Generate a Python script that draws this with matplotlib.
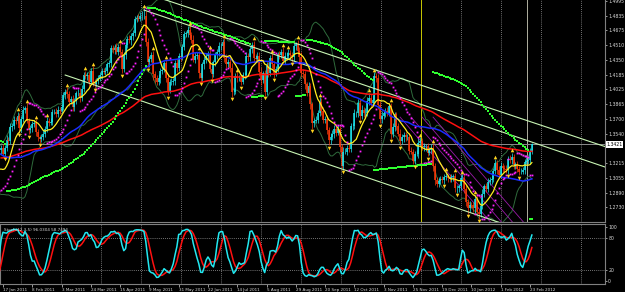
import numpy as np
import pandas as pd
import matplotlib
matplotlib.use('Agg')
import matplotlib.pyplot as plt
import matplotlib.transforms as mtransforms
from matplotlib import font_manager as fm

# ---------------- data (EURUSD daily) -------------
# closes before the first visible bar (only used to warm up the indicators)
pre_closes = [1.4170, 1.4200, 1.4030,
1.3920,1.3810,1.3820,1.3780,1.3690,
1.3600,1.3530,1.3550,1.3680,1.3670,
1.3620,1.3390,1.3370,1.3340,1.3240,
1.3120,1.3000,1.3140,1.3230,1.3410,
1.3290,1.3250,1.3250,1.3240,1.3220,
1.3370,1.3290,1.3210,1.3230,1.3190,
1.3120,1.3120,1.3080,1.3100,1.3080,
1.3160,1.3120,1.3130,1.3190,1.3380,
1.3360,1.3310,1.3140,1.3010,1.2910,
1.2950,1.2980,1.3090,1.3360]

closes = [1.3382,
1.3320,1.3380,1.3470,1.3460,1.3610,
1.3620,1.3690,1.3680,1.3730,1.3600,
1.3700,1.3800,1.3820,1.3680,1.3580,
1.3600,1.3640,1.3660,1.3560,1.3500,
1.3480,1.3500,1.3540,1.3590,1.3680,
1.3660,1.3670,1.3780,1.3780,1.3750,
1.3800,1.3790,1.3830,1.3960,1.4000,
1.3970,1.3890,1.3920,1.3830,1.3900,
1.3980,1.3990,1.3930,1.4030,1.4180,
1.4170,1.4180,1.4110,1.4230,1.4100,
1.4080,1.4120,1.4150,1.4180,1.4230,
1.4220,1.4230,1.4300,1.4310,1.4480,
1.4460,1.4480,1.4440,1.4490,1.4430,
1.4250,1.4400,1.4510,1.4580,1.4570,
1.4610,1.4640,1.4800,1.4810,1.4800,
1.4830,1.4830,1.4830,1.4540,1.4320,
1.4360,1.4400,1.4190,1.4150,1.4110,
1.4150,1.4230,1.4240,1.4310,1.4150,
1.4010,1.4110,1.4110,1.4120,1.4310,
1.4260,1.4390,1.4380,1.4490,1.4630,
1.4640,1.4680,1.4620,1.4570,1.4350,
1.4390,1.4400,1.4200,1.4150,1.4300,
1.4350,1.4390,1.4410,1.4250,1.4190,
1.4320,1.4400,1.4440,1.4500,1.4500,
1.4540,1.4370,1.4300,1.4330,1.4260,
1.4000,1.4000,1.4170,1.4150,1.4150,
1.4110,1.4180,1.4180,1.4390,1.4380,
1.4470,1.4510,1.4370,1.4360,1.4390,
1.4220,1.4130,1.4200,1.4000,1.4280,
1.4200,1.4370,1.4300,1.4200,1.4250,
1.4410,1.4400,1.4440,1.4340,1.4390,
1.4390,1.4420,1.4400,1.4380,1.4500,
1.4520,1.4450,1.4380,1.4200,1.4190,
1.4080,1.3990,1.4060,1.3860,1.3650,
1.3680,1.3690,1.3770,1.3890,1.3790,
1.3690,1.3700,1.3580,1.3470,1.3500,
1.3530,1.3590,1.3550,1.3590,1.3390,
1.3180,1.3340,1.3340,1.3380,1.3370,
1.3620,1.3620,1.3760,1.3760,1.3880,
1.3730,1.3800,1.3760,1.3760,1.3900,
1.3930,1.3880,1.3910,1.4170,1.4150,
1.3850,1.3700,1.3730,1.3760,1.3790,
1.3770,1.3840,1.3530,1.3610,1.3750,
1.3620,1.3540,1.3460,1.3500,1.3520,
1.3500,1.3500,1.3350,1.3340,1.3240,
1.3320,1.3320,1.3440,1.3460,1.3390,
1.3400,1.3400,1.3330,1.3360,1.3380,
1.3180,1.3030,1.2990,1.3020,1.3040,
1.3030,1.3060,1.3070,1.3050,1.3040,
1.3060,1.3070,1.2940,1.2940,1.2960,
1.3050,1.3050,1.2930,1.2790,1.2720,
1.2760,1.2750,1.2720,1.2820,1.2680,
1.2660,1.2740,1.2880,1.2960,1.2930,
1.3010,1.3030,1.3040,1.3130,1.3220,
1.3140,1.3080,1.3180,1.3160,1.3150,
1.3140,1.3260,1.3250,1.3280,1.3190,
1.3200,1.3150,1.3120,1.3120,1.3140,
1.3230,1.3240,1.3250,1.3340,1.3420]

# upper / lower shadow length of each visible candle, in units of 0.001
upper_shadow = [3,
4,3,5,3,4, 3,4,3,5,4, 3,4,2,5,3, 3,4,3,4,3, 2,3,4,3,4, 3,4,3,3,4,
4,3,3,4,3, 5,4,3,4,3, 3,4,5,4,3, 5,3,4,3,5, 4,3,3,4,3, 3,4,3,4,3,
3,4,5,3,4, 4,3,4,3,4, 3,4,3,3,4, 4,5,9,6,5, 3,4,5,4,3, 4,3,4,3,5,
4,3,4,3,4, 5,3,4,3,4, 3,4,5,4,5, 4,3,5,4,3, 4,3,4,5,4, 3,4,3,4,3,
4,5,4,3,5, 5,4,3,4,3, 4,3,4,5,3, 3,4,5,4,4, 4,5,3,4,5, 4,3,5,4,3,
3,4,3,5,4, 4,5,4,3,4, 3,5,4,6,5, 4,3,5,4,3, 3,4,3,5,4, 4,3,4,3,5,
5,4,3,4,3, 4,5,4,3,4, 3,4,5,3,4, 4,5,3,6,4, 6,4,5,4,3, 4,5,6,4,3,
4,3,4,5,3, 3,4,5,3,4, 4,3,5,4,3, 3,4,5,4,3, 4,3,4,3,4, 5,4,3,4,3,
3,4,5,3,4, 4,3,4,3,3, 3,4,3,4,3, 4,3,4,5,3, 3,4,5,3,4, 4,3,4,3,4,
3,4,5,4,3, 4,3,4,5,3, 3,4,3,4,3, 3,4,3,4,2]
lower_shadow = [4,
3,4,3,5,3, 4,3,4,3,5, 4,3,4,3,5, 3,4,3,5,4, 4,3,3,4,3, 4,3,4,3,3,
3,4,3,3,4, 4,5,3,4,4, 4,3,4,3,3, 3,4,5,3,4, 4,3,4,3,4, 3,4,3,3,4,
4,5,3,4,3, 5,3,4,3,4, 6,4,3,4,3, 3,4,3,4,6, 5,4,6,5,4, 4,5,4,3,4,
5,3,4,4,5, 4,3,4,3,3, 3,4,3,4,3, 4,3,5,4,3, 5,4,3,4,5, 3,4,4,5,4,
4,5,4,3,4, 6,4,3,4,3, 4,3,4,3,4, 4,5,4,3,3, 5,6,4,5,4, 4,3,4,5,3,
3,4,3,4,4, 4,3,4,5,4, 4,4,5,4,4, 5,4,4,5,6, 4,3,4,4,5, 4,3,5,6,4,
3,4,4,3,5, 2,4,3,4,3, 3,4,3,4,4, 4,3,4,5,3, 5,6,4,3,4, 4,5,4,3,4,
4,4,5,3,4, 4,3,5,4,5, 4,3,4,3,3, 4,3,5,4,3, 4,5,4,3,3, 5,6,4,4,3,
3,4,3,4,3, 3,4,4,5,4, 4,3,4,5,6, 4,3,4,5,4, 6,4,3,4,3, 3,4,4,3,3,
4,3,3,4,3, 3,4,3,4,4, 4,3,4,3,3, 4,3,3,4,3]

date_labels = ['17 Jan 2011', '8 Feb 2011', '3 Mar 2011', '24 Mar 2011', '15 Apr 2011',
               '9 May 2011', '31 May 2011', '22 Jun 2011', '14 Jul 2011', '5 Aug 2011',
               '29 Aug 2011', '20 Sep 2011', '12 Oct 2011', '3 Nov 2011', '25 Nov 2011',
               '19 Dec 2011', '10 Jan 2012', '1 Feb 2012', '23 Feb 2012']
label_step = 16
price_ticks = [1.4995, 1.4835, 1.4675, 1.4510, 1.4350, 1.4185, 1.4025, 1.3865,
               1.3700, 1.3540, 1.3215, 1.3055, 1.2890, 1.2730]
stoch_ticks = [100, 80, 20, 0]
bid_label = '1.3421'
stoch_text = 'Stoch(12,3,5) 96.0304 58.7494'

ma_fast_period = 10
ma_mid_period = 50
ma_slow_period, ma_slow_seed = 115, 1.3270

# trend lines: (bar_a, price_a, bar_b, price_b, start_bar)
trend_lines = [(90, 1.5006, 329, 1.3403, 80),
               (78, 1.4896, 330, 1.3172, 78),
               (35, 1.4182, 262, 1.2633, 35)]
# purple channel lines near the end: (bar_a, price_a, bar_b, price_b)
purple_lines = [(218, 1.3720, 266, 1.2600),
                (224, 1.3720, 272, 1.2600),
                (230, 1.3720, 278, 1.2600),
                (236, 1.3720, 284, 1.2600)]
vlines_bars = [(229.4, '#c8c800'), (287.3, '#b0b0a0')]

# --------------------------------------------------------------------------------
n = min(len(closes), len(upper_shadow), len(lower_shadow))
npre = len(pre_closes)
call = np.array(pre_closes + closes[:n])
oall = np.concatenate([[call[0]], call[:-1]])
ush = np.concatenate([np.zeros(npre), np.array(upper_shadow[:n]) * 0.001])
lsh = np.concatenate([np.zeros(npre), np.array(lower_shadow[:n]) * 0.001])
hall = np.maximum(oall, call) + ush
lall = np.minimum(oall, call) - lsh
xall = np.arange(len(call)) - npre

def ema(vals, period, seed):
    a = 2.0 / (period + 1)
    out, v = [], seed
    for val in vals:
        v = v + a * (val - v)
        out.append(v)
    return np.array(out)

def psar(h, l, step, amax, up, sar, ep, af):
    out = []
    for i in range(len(h)):
        if up:
            if l[i] < sar:
                up, sar, ep, af = False, ep, l[i], step
            elif h[i] > ep:
                ep, af = h[i], min(af + step, amax)
        else:
            if h[i] > sar:
                up, sar, ep, af = True, ep, h[i], step
            elif l[i] < ep:
                ep, af = l[i], min(af + step, amax)
        out.append(sar)
        sar = sar + af * (ep - sar)
        if up:
            sar = min(sar, l[i], l[i - 1] if i > 0 else l[i])
        else:
            sar = max(sar, h[i], h[i - 1] if i > 0 else h[i])
    return np.array(out)

cs = pd.Series(call)
yel = cs.rolling(ma_fast_period, min_periods=1).mean().values
blu = cs.rolling(ma_mid_period, min_periods=1).mean().values
red = ema(call[npre:], ma_slow_period, ma_slow_seed)
bbm = cs.rolling(20, min_periods=1).mean()
bbs = cs.rolling(20, min_periods=2).std(ddof=0).bfill()
bbu, bbl = (bbm + 2 * bbs).values, (bbm - 2 * bbs).values

sar_m = psar(hall, lall, 0.02, 0.2, False, 1.4300, 1.4030, 0.02)
sar_g = psar(hall, lall, 0.002, 0.2, False, 1.4300, 1.4030, 0.002)

hs, ls = pd.Series(hall), pd.Series(lall)
hh = hs.rolling(12, min_periods=1).max()
ll = ls.rolling(12, min_periods=1).min()
k = (100 * (cs - ll).rolling(3, min_periods=1).sum() / (hh - ll).rolling(3, min_periods=1).sum()).values
d = pd.Series(k).rolling(5, min_periods=1).mean().values

vis = xall >= 0
x = xall[vis]
c, o, hi, lo = call[vis], oall[vis], hall[vis], lall[vis]
up_fr = [i for i in range(2, n - 2) if hi[i] > max(hi[i-2], hi[i-1], hi[i+1], hi[i+2])]
dn_fr = [i for i in range(2, n - 2) if lo[i] < min(lo[i-2], lo[i-1], lo[i+1], lo[i+2])]

names = {f.name for f in fm.fontManager.ttflist}
if 'Liberation Sans Narrow' in names:
    tfont = dict(family='Liberation Sans Narrow')
    fs_p, fs_d = 3.9, 3.6
else:
    tfont = dict(family='DejaVu Sans')
    fs_p, fs_d = 3.3, 3.0

# --------------------------------------------------------------------------------
W, H = 625, 292
fig = plt.figure(figsize=(W / 100, H / 100), dpi=100, facecolor='black')
ax = fig.add_axes([0, (H - 222) / H, 605 / W, 222 / H], facecolor='black')
ax2 = fig.add_axes([0, (H - 284) / H, 605 / W, 60 / H], facecolor='black')

px = 1.83
x0 = 1 - 3 / px
x1 = 1 + 602 / px
for a in (ax, ax2):
    a.set_xlim(x0, x1)
ppp = 0.001098
ax.set_ylim(1.4995 - 221 * ppp, 1.4995 + 1 * ppp)
ax2.set_ylim(-6, 105)

grey = '#808080'
for a in (ax, ax2):
    for s in a.spines.values():
        s.set_color(grey); s.set_linewidth(0.8)
ax.spines['left'].set_visible(False)
ax.spines['top'].set_visible(False)

gx = np.arange(11, n + 40, 21.85)
for a in (ax, ax2):
    for g in gx:
        a.axvline(g, color='#9a9a9a', lw=0.6, ls=(0, (1, 1.5)), zorder=0.5)
for lv in (80, 20):
    ax2.axhline(lv, color='#9a9a9a', lw=0.6, ls=(0, (1, 1.5)), zorder=0.5)

for bx, col in vlines_bars:
    ax.axvline(bx, color=col, lw=0.7, zorder=1)

ax.plot(xall, bbu, color='#2f6b3c', lw=0.7, zorder=2)
ax.plot(xall, bbl, color='#2f6b3c', lw=0.7, zorder=2)

for (ba, pa, bb, pb) in purple_lines:
    slope = (pb - pa) / (bb - ba)
    xs = np.array([ba, bb + 10])
    ax.plot(xs, pa + slope * (xs - ba), color='#9a1aa8', lw=0.6, zorder=2.2)

bull = c >= o
cb, cr = '#1ee6ee', '#ff3a0a'
cols = np.where(bull, cb, cr)
ax.vlines(x, lo, hi, colors=cols, lw=0.5, zorder=3)
ax.vlines(x, np.minimum(o, c), np.maximum(o, c), colors=cols, lw=1.1, zorder=3)

ax.axhline(c[-1], color='#8c8c8c', lw=0.7, zorder=2.5)

for (ba, pa, bb, pb, sb) in trend_lines:
    slope = (pb - pa) / (bb - ba)
    xs = np.array([sb, x1 + 5])
    ax.plot(xs, pa + slope * (xs - ba), color='#c8f5b4', lw=0.8, zorder=4)

ax.plot(x, red, color='#ff1010', lw=1.1, zorder=5)
ax.plot(xall, blu, color='#1a2cff', lw=1.1, zorder=5)
ax.plot(xall, yel, color='#ffee20', lw=0.9, zorder=5)

ax.plot(xall, sar_m, ls='none', marker='s', ms=1.3, mew=0, color='#ff22ff', zorder=6)
ax.plot(xall, sar_g, ls='none', marker='s', ms=1.7, mew=0, color='#30ff30', zorder=6)

ax.plot(np.array(up_fr), hi[up_fr] + 0.0025, ls='none', marker='^', ms=2.6, mew=0,
        color='#ffd21e', zorder=7)
ax.plot(np.array(dn_fr), lo[dn_fr] - 0.0025, ls='none', marker='v', ms=2.6, mew=0,
        color='#ffd21e', zorder=7)

ax.yaxis.tick_right()
ax.set_yticks(price_ticks)
ax.set_yticklabels([f'{t:.4f}' for t in price_ticks], **tfont)
ax.tick_params(axis='y', colors='#d8d8d8', labelsize=fs_p, length=1.5, width=0.5, pad=0.8)
ax.tick_params(axis='x', bottom=False, labelbottom=False)
ax.text(1.002, c[-1], bid_label, transform=mtransforms.blended_transform_factory(ax.transAxes, ax.transData),
        fontsize=fs_p, color='black', va='center', ha='left', **tfont,
        bbox=dict(boxstyle='square,pad=0.15', fc='white', ec='white', lw=0))

ax2.plot(xall, d, color='#ff1010', lw=1.1, zorder=4)
ax2.plot(xall, k, color='#22e8f0', lw=1.1, zorder=5)
ax2.yaxis.tick_right()
ax2.set_yticks(stoch_ticks)
ax2.set_yticklabels([str(t) for t in stoch_ticks], **tfont)
ax2.tick_params(axis='y', colors='#d8d8d8', labelsize=fs_p, length=1.5, width=0.5, pad=0.8)
lbl_x = [1 + label_step * i for i in range(len(date_labels))]
ax2.set_xticks(lbl_x)
ax2.set_xticklabels(date_labels, ha='left', **tfont)
ax2.tick_params(axis='x', colors='#d8d8d8', labelsize=fs_d, length=2, width=0.5, pad=1.0)
ax2.text(0.006, 0.93, stoch_text, transform=ax2.transAxes, fontsize=fs_d, color='#d8d8d8',
         va='top', ha='left', zorder=8, **tfont)

fig.savefig('out.png', dpi=100, facecolor='black')
